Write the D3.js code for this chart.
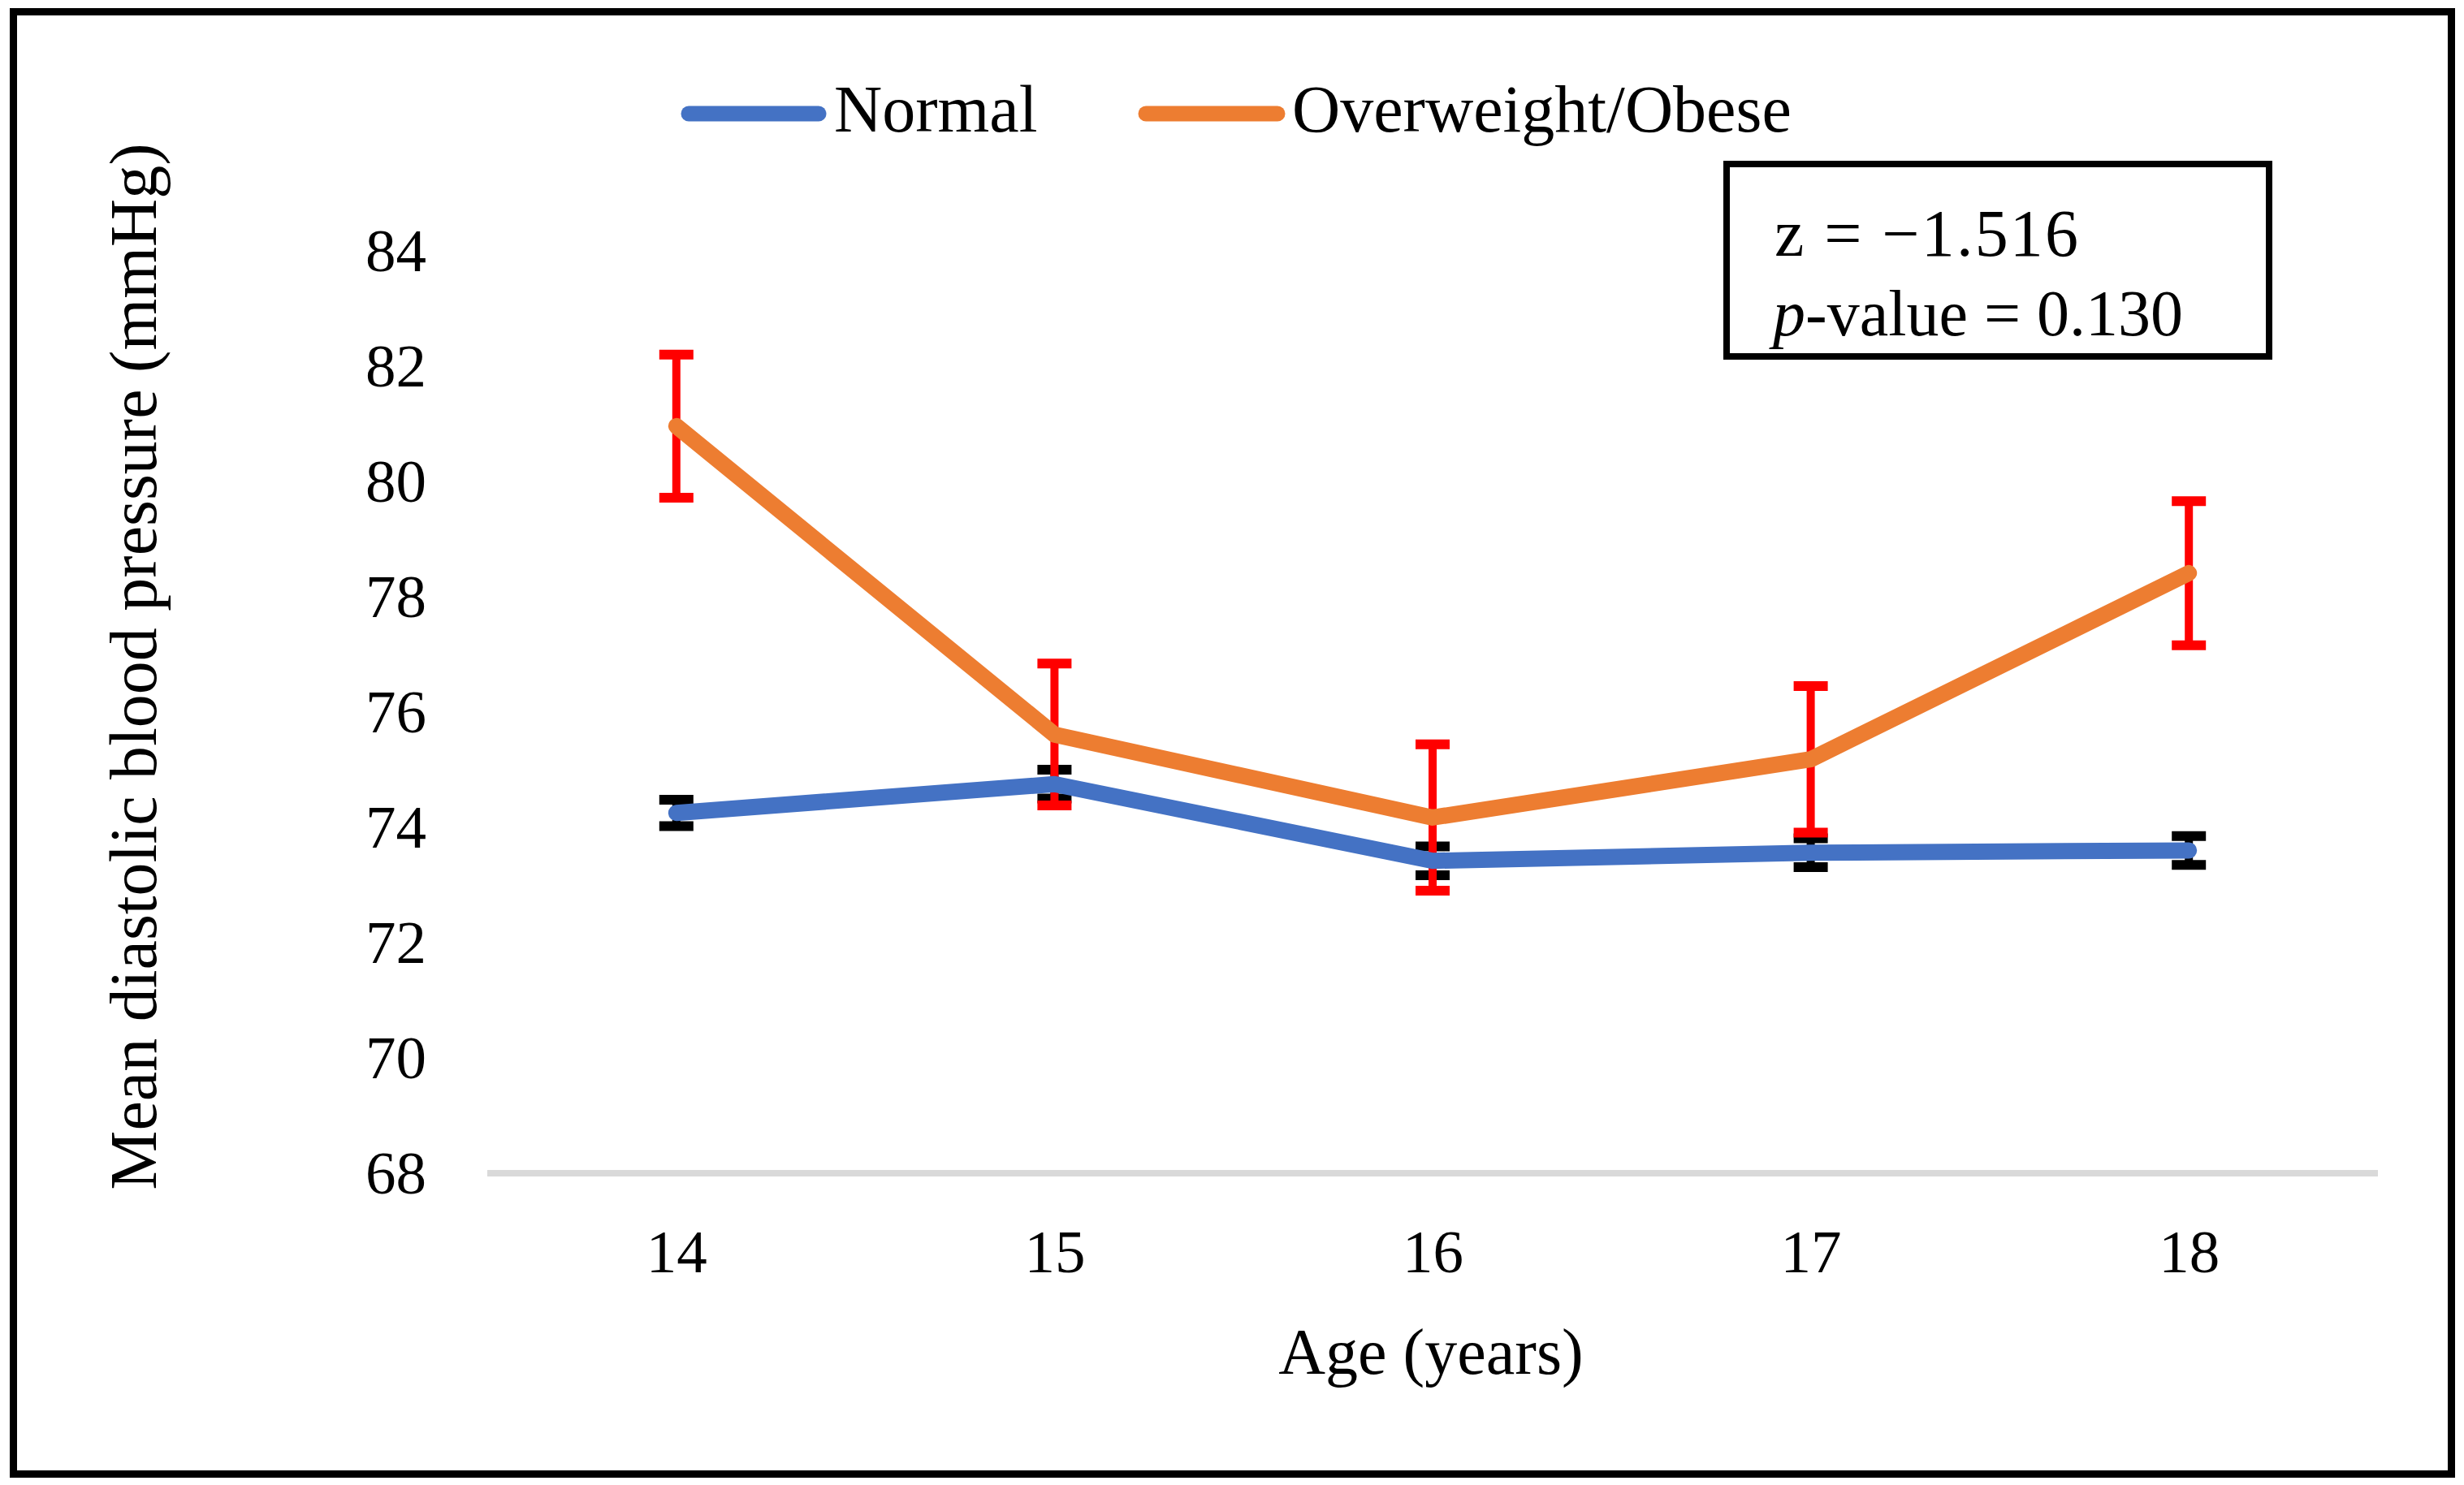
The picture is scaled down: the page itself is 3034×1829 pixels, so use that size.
<!DOCTYPE html>
<html>
<head>
<meta charset="utf-8">
<script src="https://cdn.jsdelivr.net/npm/d3@7/dist/d3.min.js"></script>
<style>
  html, body { margin: 0; padding: 0; background: #fff; }
  svg { display: block; }
  text { font-family: "Liberation Serif", "Times New Roman", serif; fill: #000; }
</style>
</head>
<body>
<script>
// ---- Data ----
const ages = ["14", "15", "16", "17", "18"];
const normalMeans = [74.25, 74.75, 73.42, 73.56, 73.6];
const normalErr = [0.23, 0.25, 0.25, 0.25, 0.25];
const obeseMeans = [80.96, 75.61, 74.17, 75.18, 78.41];
const obeseErr = [1.24, 1.23, 1.27, 1.27, 1.25];
const yTicks = [68, 70, 72, 74, 76, 78, 80, 82, 84];
const seriesNames = ["Normal", "Overweight/Obese"];
const statLines = ["z = \u22121.516", "p-value = 0.130"];
const xTitle = "Age (years)";
const yTitle = "Mean diastolic blood pressure (mmHg)";

const W = 3034, H = 1829;
const colors = { normal: "#4472C4", obese: "#ED7D31", normalErr: "#000000", obeseErr: "#FF0000" };

const svg = d3.select("body").append("svg").attr("width", W).attr("height", H);
svg.append("rect").attr("width", W).attr("height", H).attr("fill", "#fff");

// Outer frame
svg.append("rect").attr("x", 16.5).attr("y", 14.5).attr("width", 3002).attr("height", 1801)
  .attr("fill", "none").attr("stroke", "#000").attr("stroke-width", 9);

const x = d3.scalePoint().domain(ages).range([600, 2928]).padding(0.5);
const y = d3.scaleLinear().domain([68, 84]).range([1445, 309]);

// Baseline (x-axis line)
svg.append("line").attr("x1", 600).attr("x2", 2928).attr("y1", y(68)).attr("y2", y(68))
  .attr("stroke", "#D9D9D9").attr("stroke-width", 8);

// Y tick labels
const yAxis = d3.axisLeft(y).tickValues(yTicks).tickSize(0).tickPadding(0);
const gy = svg.append("g").attr("transform", "translate(525,0)").call(yAxis);
gy.select(".domain").remove();
gy.selectAll("text").attr("font-size", 75).attr("font-family", "Liberation Serif, serif")
  .attr("fill", "#000").attr("dy", "0.33em");

// X tick labels
const xAxis = d3.axisBottom(x).tickSize(0).tickPadding(0);
const gx = svg.append("g").attr("transform", `translate(0,${1567})`).call(xAxis);
gx.select(".domain").remove();
gx.selectAll("text").attr("font-size", 75).attr("font-family", "Liberation Serif, serif")
  .attr("fill", "#000").attr("dy", 0);

// Axis titles
svg.append("text").attr("x", 1762).attr("y", 1692).attr("text-anchor", "middle")
  .attr("font-size", 80).text(xTitle);
svg.append("text").attr("transform", "translate(192,821) rotate(-90)").attr("text-anchor", "middle")
  .attr("font-size", 82).text(yTitle);

// Error bars helper
function errorBars(means, errs, color) {
  const g = svg.append("g");
  ages.forEach((a, i) => {
    const cx = x(a), top = y(means[i] + errs[i]), bot = y(means[i] - errs[i]);
    g.append("line").attr("x1", cx).attr("x2", cx).attr("y1", top).attr("y2", bot)
      .attr("stroke", color).attr("stroke-width", 10);
    [top, bot].forEach(v => g.append("line").attr("x1", cx - 21).attr("x2", cx + 21)
      .attr("y1", v).attr("y2", v).attr("stroke", color).attr("stroke-width", 12));
  });
}
errorBars(normalMeans, normalErr, colors.normalErr);
errorBars(obeseMeans, obeseErr, colors.obeseErr);

const line = d3.line().x((d, i) => x(ages[i])).y(d => y(d));
svg.append("path").datum(normalMeans).attr("d", line).attr("fill", "none")
  .attr("stroke", colors.normal).attr("stroke-width", 20).attr("stroke-linejoin", "round").attr("stroke-linecap", "round");
svg.append("path").datum(obeseMeans).attr("d", line).attr("fill", "none")
  .attr("stroke", colors.obese).attr("stroke-width", 20).attr("stroke-linejoin", "round").attr("stroke-linecap", "round");

// Legend
const legendItems = [
  { name: seriesNames[0], color: colors.normal, x0: 848, x1: 1008, tx: 1027 },
  { name: seriesNames[1], color: colors.obese, x0: 1411, x1: 1573, tx: 1591 }
];
legendItems.forEach(it => {
  svg.append("line").attr("x1", it.x0).attr("x2", it.x1).attr("y1", 140).attr("y2", 140)
    .attr("stroke", it.color).attr("stroke-width", 19).attr("stroke-linecap", "round");
  svg.append("text").attr("x", it.tx).attr("y", 162).attr("font-size", 82).text(it.name);
});

// Stats box
svg.append("rect").attr("x", 2126).attr("y", 202).attr("width", 668).attr("height", 237)
  .attr("fill", "#fff").attr("stroke", "#000").attr("stroke-width", 8);
svg.append("text").attr("x", 2185).attr("y", 315).attr("font-size", 82)
  .attr("textLength", 374).attr("lengthAdjust", "spacing").text(statLines[0]);
const t2 = svg.append("text").attr("x", 2183).attr("y", 413).attr("font-size", 80);
t2.append("tspan").attr("font-style", "italic").text(statLines[1].slice(0, 1));
t2.append("tspan").text(statLines[1].slice(1));
</script>
</body>
</html>
